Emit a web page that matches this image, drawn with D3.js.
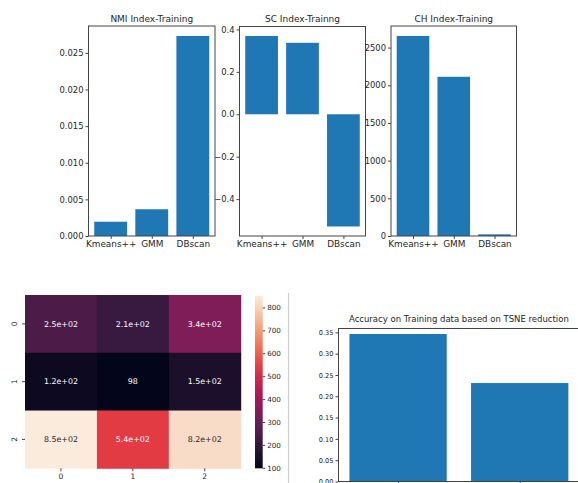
<!DOCTYPE html>
<html lang="en">
<head>
<meta charset="utf-8">
<title>Clustering indices</title>
<script src="https://d3js.org/d3.v7.min.js"></script>
<style>
  html, body { margin: 0; padding: 0; background: white; }
  svg, svg text { font-family: "DejaVu Sans", sans-serif; }
  svg { display: block; }
  .tick text { fill: #262626; font-family: "DejaVu Sans", sans-serif; }
  .tick line { stroke: #444; }
  .domain { display: none; }
</style>
</head>
<body>
<script>
// data
const methods = ["Kmeans++", "GMM", "DBscan"];
const nmiValues = [0.00195, 0.00365, 0.0273];
const scValues = [0.369, 0.337, -0.529];
const chValues = [2654, 2113, 22];
const nmiTicks = [0, 0.005, 0.01, 0.015, 0.02, 0.025];
const scTicks = [-0.4, -0.2, 0, 0.2, 0.4];
const chTicks = [0, 500, 1000, 1500, 2000, 2500];

const heatRows = ["0", "1", "2"];
const heatCols = ["0", "1", "2"];
const heatValues = [
  [250, 210, 340],
  [120, 98, 150],
  [850, 540, 820]
];
const heatLabels = [
  ["2.5e+02", "2.1e+02", "3.4e+02"],
  ["1.2e+02", "98", "1.5e+02"],
  ["8.5e+02", "5.4e+02", "8.2e+02"]
];
const cbarTicks = [100, 200, 300, 400, 500, 600, 700, 800];

const accValues = [0.346, 0.231];
const accTicks = [0, 0.05, 0.1, 0.15, 0.2, 0.25, 0.3, 0.35];
const accTop = 0.359;

const W = 578, H = 483;
const barColor = "#1f77b4";
const spine = "#444";

const svg = d3.select("body").append("svg")
  .attr("width", W).attr("height", H);
svg.append("rect").attr("width", W).attr("height", H).attr("fill", "white");

// matplotlib style bar x-scale: bars at i with width .8, 5% margins
function barX(n, left, right) {
  const lo = -0.4, hi = n - 1 + 0.4, pad = 0.05 * (hi - lo);
  return d3.scaleLinear().domain([lo - pad, hi + pad]).range([left, right]);
}

function frame(g, left, right, top, bottom) {
  g.append("rect")
    .attr("x", left).attr("y", top)
    .attr("width", right - left).attr("height", bottom - top)
    .attr("fill", "none").attr("stroke", spine).attr("stroke-width", 1);
}

function barPanel(opts) {
  const { left, right, top, bottom, values, ticks, fmt, title } = opts;
  const g = svg.append("g");
  const x = barX(values.length, left, right);
  const lo = d3.min([0, d3.min(values)]), hi = d3.max([0, d3.max(values)]);
  const span = hi - lo;
  const y = d3.scaleLinear()
    .domain([lo < 0 ? lo - 0.05 * span : 0, hi + 0.05 * span])
    .range([bottom, top]);

  g.selectAll("rect.bar").data(values).enter().append("rect")
    .attr("class", "bar")
    .attr("x", (d, i) => x(i - 0.4))
    .attr("width", (d, i) => x(i + 0.4) - x(i - 0.4))
    .attr("y", d => y(Math.max(0, d)))
    .attr("height", d => Math.abs(y(d) - y(0)))
    .attr("fill", barColor);

  frame(g, left, right, top, bottom);

  g.append("g").attr("transform", `translate(${left},0)`)
    .call(d3.axisLeft(y).tickValues(ticks).tickFormat(fmt).tickSize(3).tickPadding(2))
    .call(a => a.selectAll("text").style("font-size", "8.4px"));

  g.append("g").attr("transform", `translate(0,${bottom})`)
    .call(d3.axisBottom(x).tickValues(d3.range(values.length))
      .tickFormat(i => opts.labels[i]).tickSize(3).tickPadding(2))
    .call(a => a.selectAll("text").style("font-size", "8.9px"));

  g.append("text")
    .attr("x", (left + right) / 2).attr("y", 22)
    .attr("text-anchor", "middle")
    .style("font-size", "9px").attr("fill", "#262626")
    .text(title);
}

const minus = s => s.replace("-", "\u2212");

barPanel({ left: 88.5, right: 215, top: 26, bottom: 236, values: nmiValues,
  ticks: nmiTicks, fmt: d3.format(".3f"), labels: methods,
  title: "NMI Index-Training" });
barPanel({ left: 239.5, right: 365.5, top: 26.5, bottom: 236, values: scValues,
  ticks: scTicks, fmt: d => minus(d3.format(".1f")(d)), labels: methods,
  title: "SC Index-Trainng" });
barPanel({ left: 391, right: 516.5, top: 26, bottom: 236, values: chValues,
  ticks: chTicks, fmt: d3.format("d"), labels: methods,
  title: "CH Index-Training" });

// heatmap with seaborn "rocket" colormap
const rocketStops = ["#03051a", "#35193e", "#701f57", "#ad1759", "#e13342", "#f37651", "#f6b48f", "#faebdd"];
const rocket = d3.scaleLinear()
  .domain(rocketStops.map((c, i) => i / (rocketStops.length - 1)))
  .range(rocketStops).interpolate(d3.interpolateRgb);
const vmin = d3.min(heatValues.flat()), vmax = d3.max(heatValues.flat());
const norm = d3.scaleLinear().domain([vmin, vmax]).range([0, 1]);
const color = v => rocket(norm(v));

const hx = d3.scaleBand().domain(heatCols).range([25, 240.7]);
const hy = d3.scaleBand().domain(heatRows).range([295, 468.3]);
const hg = svg.append("g");

const cells = [];
heatRows.forEach((r, i) => heatCols.forEach((c, j) =>
  cells.push({ r, c, v: heatValues[i][j], label: heatLabels[i][j] })));

hg.selectAll("rect.cell").data(cells).enter().append("rect")
  .attr("x", d => hx(d.c)).attr("y", d => hy(d.r))
  .attr("width", hx.bandwidth() + 0.5).attr("height", hy.bandwidth() + 0.5)
  .attr("fill", d => color(d.v));

function lum(c) {
  const rgb = d3.rgb(c);
  const f = v => { v /= 255; return v <= 0.03928 ? v / 12.92 : Math.pow((v + 0.055) / 1.055, 2.4); };
  return 0.2126 * f(rgb.r) + 0.7152 * f(rgb.g) + 0.0722 * f(rgb.b);
}

hg.selectAll("text.annot").data(cells).enter().append("text")
  .attr("x", d => hx(d.c) + hx.bandwidth() / 2)
  .attr("y", d => hy(d.r) + hy.bandwidth() / 2)
  .attr("dy", "0.35em").attr("text-anchor", "middle")
  .style("font-size", "7.9px")
  .attr("fill", d => lum(color(d.v)) > 0.408 ? "#262626" : "white")
  .text(d => d.label);

hg.append("g").attr("transform", "translate(25,0)")
  .call(d3.axisLeft(hy).tickSize(3).tickPadding(4))
  .call(a => a.selectAll("text").style("font-size", "7.5px")
    .attr("transform", "rotate(-90)").attr("x", 0).attr("dx", 0)
    .attr("y", -8).attr("text-anchor", "middle").attr("dy", "0"));
hg.append("g").attr("transform", "translate(0,468.3)")
  .call(d3.axisBottom(hx).tickSize(3).tickPadding(2))
  .call(a => a.selectAll("text").style("font-size", "7.5px"));

// colorbar
const cb = { left: 255, right: 262.7, top: 296, bottom: 468.3 };
const cy = d3.scaleLinear().domain([vmin, vmax]).range([cb.bottom, cb.top]);
const grad = svg.append("defs").append("linearGradient")
  .attr("id", "rocketGrad").attr("x1", 0).attr("y1", 1).attr("x2", 0).attr("y2", 0);
d3.range(0, 1.0001, 0.05).forEach(t =>
  grad.append("stop").attr("offset", t).attr("stop-color", rocket(t)));
svg.append("rect")
  .attr("x", cb.left).attr("y", cb.top)
  .attr("width", cb.right - cb.left).attr("height", cb.bottom - cb.top)
  .attr("fill", "url(#rocketGrad)");
svg.append("g").attr("transform", `translate(${cb.right},0)`)
  .call(d3.axisRight(cy).tickValues(cbarTicks).tickSize(2.5).tickPadding(2))
  .call(a => a.selectAll("text").style("font-size", "7.2px"));

// thin divider seen in the screenshot
svg.append("line")
  .attr("x1", 288.5).attr("x2", 288.5).attr("y1", 293).attr("y2", H)
  .attr("stroke", "#cfcfcf").attr("stroke-width", 1.2);

// accuracy chart
(function () {
  const left = 338.5, right = 579.3, top = 328.5, bottom = 481.5;
  const g = svg.append("g");
  const x = barX(accValues.length, left, right);
  const y = d3.scaleLinear().domain([0, accTop]).range([bottom, top]);
  g.selectAll("rect.bar").data(accValues).enter().append("rect")
    .attr("x", (d, i) => x(i - 0.4))
    .attr("width", (d, i) => x(i + 0.4) - x(i - 0.4))
    .attr("y", d => y(d)).attr("height", d => y(0) - y(d))
    .attr("fill", barColor);
  frame(g, left, right, top, bottom);
  g.append("g").attr("transform", `translate(${left},0)`)
    .call(d3.axisLeft(y).tickValues(accTicks).tickFormat(d3.format(".2f")).tickSize(3).tickPadding(2))
    .call(a => a.selectAll("text").style("font-size", "6.6px"));
  g.append("g").attr("transform", `translate(0,${bottom})`)
    .call(d3.axisBottom(x).tickValues(d3.range(accValues.length)).tickFormat("").tickSize(3));
  g.append("text")
    .attr("x", (left + right) / 2).attr("y", 322)
    .attr("text-anchor", "middle").style("font-size", "8.5px").attr("fill", "#262626")
    .text("Accuracy on Training data based on TSNE reduction");
})();
</script>
</body>
</html>
